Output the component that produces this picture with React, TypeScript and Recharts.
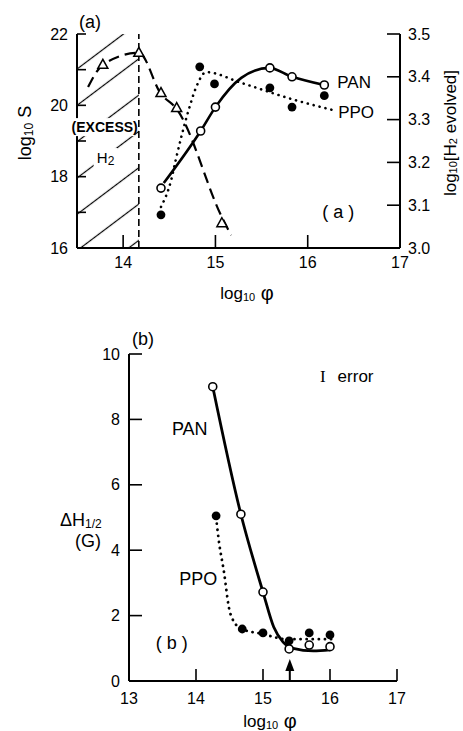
import React from 'react';
import {
  ComposedChart,
  Line,
  Scatter,
  XAxis,
  YAxis,
  ReferenceArea,
  ReferenceLine,
} from 'recharts';

// ---------- panel (a): log10 S and log10[H2 evolved] vs log10 phi ----------
const phiTriA = [13.78, 14.17, 14.41, 14.58, 15.07];
const h2TriA = [3.428, 3.456, 3.362, 3.327, 3.058];
const phiH2Curve = [13.62, 13.78, 14.17, 14.41, 14.58, 15.07, 15.17];
const h2Curve = [3.376, 3.428, 3.456, 3.36, 3.325, 3.072, 3.03];

const phiPanA = [14.41, 14.84, 15.0, 15.59, 15.83, 16.18];
const panA = [17.68, 19.28, 19.95, 21.05, 20.8, 20.57];
const phiPanCurveA = [14.44, 14.84, 15.0, 15.28, 15.58, 15.83, 16.18];
const panCurveA = [17.82, 19.28, 19.95, 20.77, 21.05, 20.8, 20.57];

const phiPpoA = [14.41, 14.83, 14.99, 15.59, 15.83, 16.18];
const ppoA = [16.93, 21.08, 20.6, 20.49, 19.95, 20.27];
const phiPpoCurveA = [14.41, 14.52, 14.57, 14.71, 14.79, 14.9, 15.28, 15.86, 16.27];
const ppoCurveA = [17.15, 17.9, 18.47, 19.87, 20.5, 20.93, 20.63, 20.15, 19.87];

const excessH2Limit = 14.17;
const xTicksA = [14, 15, 16, 17];
const xMinorTicksA = [14.5, 15.5, 16.5];
const xTopTicksA = [14, 14.5, 15, 15.5, 16, 16.5];
const sTicks = [16, 17, 18, 19, 20, 21, 22];
const h2Ticks = [3.0, 3.1, 3.2, 3.3, 3.4, 3.5];

// ---------- panel (b): line width vs log10 phi ----------
const phiPanB = [14.25, 14.67, 15.0, 15.39, 15.69, 16.0];
const panB = [9.0, 5.1, 2.72, 0.98, 1.1, 1.05];
const phiPanCurveB = [14.25, 14.67, 15.0, 15.16, 15.3, 15.45, 15.75, 16.0];
const panCurveB = [9.0, 5.1, 2.72, 1.65, 1.19, 1.0, 0.92, 0.95];

const phiPpoB = [14.3, 14.69, 15.0, 15.39, 15.69, 16.0];
const ppoB = [5.05, 1.59, 1.47, 1.23, 1.47, 1.41];
const phiPpoCurveB = [14.3, 14.34, 14.42, 14.49, 14.57, 14.69, 14.99, 15.36, 15.75, 16.03];
const ppoCurveB = [5.0, 4.3, 3.3, 2.26, 1.8, 1.59, 1.44, 1.28, 1.28, 1.28];

const arrowPhi = 15.4;
const arrowTip = 0.67;
const xTicksB = [13, 14, 15, 16, 17];
const dhTicks = [0, 2, 4, 6, 8, 10];

const zip = (xs: number[], ys: number[]) => xs.map((x, i) => ({ x, y: ys[i] }));

const FONT = "'Liberation Sans', Arial, Helvetica, sans-serif";
const INK = '#000';
const tickStyle = { fill: INK, fontSize: 16, fontFamily: FONT };

const openCircle = (p: any) => (
  <circle cx={p.cx} cy={p.cy} r={4} fill="#fff" stroke={INK} strokeWidth={1.6} />
);
const filledCircle = (p: any) => <circle cx={p.cx} cy={p.cy} r={4.4} fill={INK} />;
const openTriangle = (p: any) => (
  <polygon
    points={`${p.cx},${p.cy - 5.5} ${p.cx - 5},${p.cy + 3.5} ${p.cx + 5},${p.cy + 3.5}`}
    fill="#fff"
    stroke={INK}
    strokeWidth={1.5}
  />
);
const arrowHead = (p: any) => (
  <polygon points={`${p.cx},${p.cy} ${p.cx - 4.5},${p.cy + 12} ${p.cx + 4.5},${p.cy + 12}`} fill={INK} />
);

// text placed at a data position
const note =
  (content: React.ReactNode, opts: { anchor?: string; size?: number; weight?: string; pad?: number[] } = {}) =>
  (p: any) => {
    const size = opts.size ?? 17;
    return (
      <g>
        {opts.pad && (
          <rect x={p.cx + opts.pad[0]} y={p.cy + opts.pad[1]} width={opts.pad[2]} height={opts.pad[3]} fill="#fff" />
        )}
        <text
          x={p.cx}
          y={p.cy}
          textAnchor={(opts.anchor as any) ?? 'start'}
          dominantBaseline="central"
          fontFamily={FONT}
          fontSize={size}
          fontWeight={opts.weight ?? 'normal'}
          fill={INK}
        >
          {content}
        </text>
      </g>
    );
  };

const Note = ({ x, y, yAxisId, shape }: any) => (
  <Scatter data={[{ x, y }]} yAxisId={yAxisId} shape={shape} isAnimationActive={false} />
);

function PanelA() {
  return (
    <ComposedChart width={463} height={330} margin={{ top: 34, right: 0, bottom: 0, left: 0 }}>
      <XAxis
        xAxisId="minor"
        dataKey="x"
        type="number"
        domain={[13.5, 17]}
        ticks={xMinorTicksA}
        height={0}
        tick={false}
        tickSize={-8}
        axisLine={false}
        tickLine={{ stroke: INK, strokeWidth: 1.6 }}
      />
      <XAxis
        dataKey="x"
        type="number"
        domain={[13.5, 17]}
        ticks={xTicksA}
        height={82}
        tickSize={-13}
        tickMargin={22}
        tick={tickStyle}
        axisLine={{ stroke: INK, strokeWidth: 2 }}
        tickLine={{ stroke: INK, strokeWidth: 1.6 }}
      />
      <XAxis
        xAxisId="top"
        orientation="top"
        dataKey="x"
        type="number"
        domain={[13.5, 17]}
        ticks={xTopTicksA}
        height={0}
        tick={false}
        tickSize={-13}
        axisLine={{ stroke: INK, strokeWidth: 2 }}
        tickLine={{ stroke: INK, strokeWidth: 1.6 }}
      />
      <YAxis
        yAxisId="left"
        dataKey="y"
        type="number"
        domain={[16, 22]}
        ticks={sTicks}
        width={77}
        tickSize={-9}
        tickMargin={18}
        tick={tickStyle}
        tickFormatter={(v: number) => (v % 2 === 0 ? String(v) : '')}
        axisLine={{ stroke: INK, strokeWidth: 2 }}
        tickLine={{ stroke: INK, strokeWidth: 1.6 }}
      />
      <YAxis
        yAxisId="right"
        orientation="right"
        dataKey="y"
        type="number"
        domain={[3.0, 3.5]}
        ticks={h2Ticks}
        width={63}
        tickSize={-13}
        tickMargin={21}
        tick={tickStyle}
        tickFormatter={(v: number) => v.toFixed(1)}
        axisLine={{ stroke: INK, strokeWidth: 2 }}
        tickLine={{ stroke: INK, strokeWidth: 1.6 }}
      />

      <ReferenceArea
        yAxisId="left"
        x1={13.5}
        x2={excessH2Limit}
        y1={16}
        y2={22}
        fill="url(#hatchExcess)"
        fillOpacity={1}
        stroke="none"
      />
      <ReferenceLine yAxisId="left" x={excessH2Limit} stroke={INK} strokeWidth={1.6} strokeDasharray="7 4" />

      <Line
        data={zip(phiH2Curve, h2Curve)}
        yAxisId="right"
        dataKey="y"
        type="monotone"
        dot={false}
        stroke={INK}
        strokeWidth={2.2}
        strokeDasharray="11 6"
        isAnimationActive={false}
      />
      <Line
        data={zip(phiPpoCurveA, ppoCurveA)}
        yAxisId="left"
        dataKey="y"
        type="monotone"
        dot={false}
        stroke={INK}
        strokeWidth={2.6}
        strokeDasharray="0.1 6"
        strokeLinecap="round"
        isAnimationActive={false}
      />
      <Line
        data={zip(phiPanCurveA, panCurveA)}
        yAxisId="left"
        dataKey="y"
        type="monotone"
        dot={false}
        stroke={INK}
        strokeWidth={2.6}
        isAnimationActive={false}
      />

      <Scatter data={zip(phiTriA, h2TriA)} yAxisId="right" shape={openTriangle} isAnimationActive={false} />
      <Scatter data={zip(phiPanA, panA)} yAxisId="left" shape={openCircle} isAnimationActive={false} />
      <Scatter data={zip(phiPpoA, ppoA)} yAxisId="left" shape={filledCircle} isAnimationActive={false} />

      {Note({ x: 16.32, y: 20.65, yAxisId: 'left', shape: note('PAN', { size: 17 }) })}
      {Note({ x: 16.33, y: 19.81, yAxisId: 'left', shape: note('PPO', { size: 17 }) })}
      {Note({ x: 16.33, y: 17.0, yAxisId: 'left', shape: note('( a )', { anchor: 'middle', size: 18 }) })}
      {Note({
        x: 13.8,
        y: 19.39,
        yAxisId: 'left',
        shape: note('(EXCESS)', { anchor: 'middle', size: 14, weight: 'bold', pad: [-30, -9, 60, 18] }),
      })}
      {Note({
        x: 13.81,
        y: 18.55,
        yAxisId: 'left',
        shape: note(
          <>
            <tspan>H</tspan>
            <tspan fontSize={12} dy={4}>2</tspan>
          </>,
          { anchor: 'middle', size: 15, pad: [-12, -9, 24, 20] }
        ),
      })}
    </ComposedChart>
  );
}

function PanelB() {
  return (
    <ComposedChart width={463} height={401} margin={{ top: 24, right: 66, bottom: 0, left: 0 }}>
      <XAxis
        dataKey="x"
        type="number"
        domain={[13, 17]}
        ticks={xTicksB}
        height={50}
        tickSize={-12}
        tickMargin={24}
        tick={tickStyle}
        axisLine={{ stroke: INK, strokeWidth: 2 }}
        tickLine={{ stroke: INK, strokeWidth: 1.6 }}
      />
      <XAxis
        xAxisId="top"
        orientation="top"
        dataKey="x"
        type="number"
        domain={[13, 17]}
        height={0}
        tick={false}
        tickLine={false}
        axisLine={{ stroke: INK, strokeWidth: 2 }}
      />
      <YAxis
        yAxisId="left"
        dataKey="y"
        type="number"
        domain={[0, 10]}
        ticks={dhTicks}
        width={129}
        tickSize={-13}
        tickMargin={22}
        tick={tickStyle}
        axisLine={{ stroke: INK, strokeWidth: 2 }}
        tickLine={{ stroke: INK, strokeWidth: 1.6 }}
      />
      <YAxis
        yAxisId="right"
        orientation="right"
        dataKey="y"
        type="number"
        domain={[0, 10]}
        width={0}
        tick={false}
        tickLine={false}
        axisLine={{ stroke: INK, strokeWidth: 2 }}
      />

      <Line
        data={zip(phiPpoCurveB, ppoCurveB)}
        yAxisId="left"
        dataKey="y"
        type="monotone"
        dot={false}
        stroke={INK}
        strokeWidth={2.8}
        strokeDasharray="0.1 6"
        strokeLinecap="round"
        isAnimationActive={false}
      />
      <Line
        data={zip(phiPanCurveB, panCurveB)}
        yAxisId="left"
        dataKey="y"
        type="monotone"
        dot={false}
        stroke={INK}
        strokeWidth={2.8}
        isAnimationActive={false}
      />
      <Scatter data={zip(phiPpoB, ppoB)} yAxisId="left" shape={filledCircle} isAnimationActive={false} />
      <Scatter data={zip(phiPanB, panB)} yAxisId="left" shape={openCircle} isAnimationActive={false} />

      <ReferenceLine
        yAxisId="left"
        segment={[
          { x: arrowPhi, y: 0 },
          { x: arrowPhi, y: arrowTip * 0.6 },
        ]}
        stroke={INK}
        strokeWidth={2}
      />
      <Scatter data={[{ x: arrowPhi, y: arrowTip }]} yAxisId="left" shape={arrowHead} isAnimationActive={false} />

      {Note({ x: 13.64, y: 7.71, yAxisId: 'left', shape: note('PAN', { size: 18 }) })}
      {Note({ x: 13.75, y: 3.12, yAxisId: 'left', shape: note('PPO', { size: 18 }) })}
      {Note({ x: 13.64, y: 1.16, yAxisId: 'left', shape: note('( b )', { anchor: 'middle', size: 18 }) })}
      {Note({
        x: 15.85,
        y: 9.33,
        yAxisId: 'left',
        shape: note(
          <>
            <tspan fontFamily="'Liberation Serif', serif" fontSize={17}>I</tspan>
            <tspan dx={12}>error</tspan>
          </>,
          { size: 17 }
        ),
      })}
    </ComposedChart>
  );
}

export default function App() {
  const txt = { fontFamily: FONT, fill: INK } as const;
  return (
    <div style={{ position: 'absolute', left: 0, top: 0, width: 463, height: 731, background: '#fff' }}>
      <svg width={0} height={0} style={{ position: 'absolute' }}>
        <defs>
          <pattern id="hatchExcess" patternUnits="userSpaceOnUse" width={29} height={29} patternTransform="rotate(-37)">
            <line x1={0} y1={14.5} x2={29} y2={14.5} stroke={INK} strokeWidth={1.2} />
          </pattern>
        </defs>
      </svg>
      <div style={{ position: 'absolute', left: 0, top: 0 }}>
        <PanelA />
      </div>
      <div style={{ position: 'absolute', left: 0, top: 330 }}>
        <PanelB />
      </div>
      <svg width={463} height={731} style={{ position: 'absolute', left: 0, top: 0, pointerEvents: 'none' }}>
        <text x={90} y={22} textAnchor="middle" dominantBaseline="central" fontSize={18} {...txt}>
          (a)
        </text>
        <text x={247} y={293} textAnchor="middle" dominantBaseline="central" fontSize={17} {...txt}>
          log<tspan fontSize={11} dy={4}>10</tspan>
          <tspan dy={-4} fontSize={20}> φ</tspan>
        </text>
        <text
          x={25}
          y={133}
          textAnchor="middle"
          dominantBaseline="central"
          fontSize={18}
          transform="rotate(-90 25 133)"
          {...txt}
        >
          log<tspan fontSize={12} dy={4}>10</tspan>
          <tspan dy={-4}> S</tspan>
        </text>
        <text
          x={450}
          y={133}
          textAnchor="middle"
          dominantBaseline="central"
          fontSize={17}
          transform="rotate(-90 450 133)"
          {...txt}
        >
          log<tspan fontSize={11} dy={3}>10</tspan>
          <tspan dy={-3}>[H</tspan>
          <tspan fontSize={11} dy={3}>2</tspan>
          <tspan dy={-3}> evolved]</tspan>
        </text>

        <text x={143} y={339} textAnchor="middle" dominantBaseline="central" fontSize={18} {...txt}>
          (b)
        </text>
        <text x={60} y={520} dominantBaseline="central" fontSize={18} {...txt}>
          ΔH<tspan fontSize={12} dy={4}>1/2</tspan>
        </text>
        <text x={88} y={541} textAnchor="middle" dominantBaseline="central" fontSize={18} {...txt}>
          (G)
        </text>
        <text x={270} y={721} textAnchor="middle" dominantBaseline="central" fontSize={17} {...txt}>
          log<tspan fontSize={11} dy={4}>10</tspan>
          <tspan dy={-4} fontSize={20}> φ</tspan>
        </text>
      </svg>
    </div>
  );
}
